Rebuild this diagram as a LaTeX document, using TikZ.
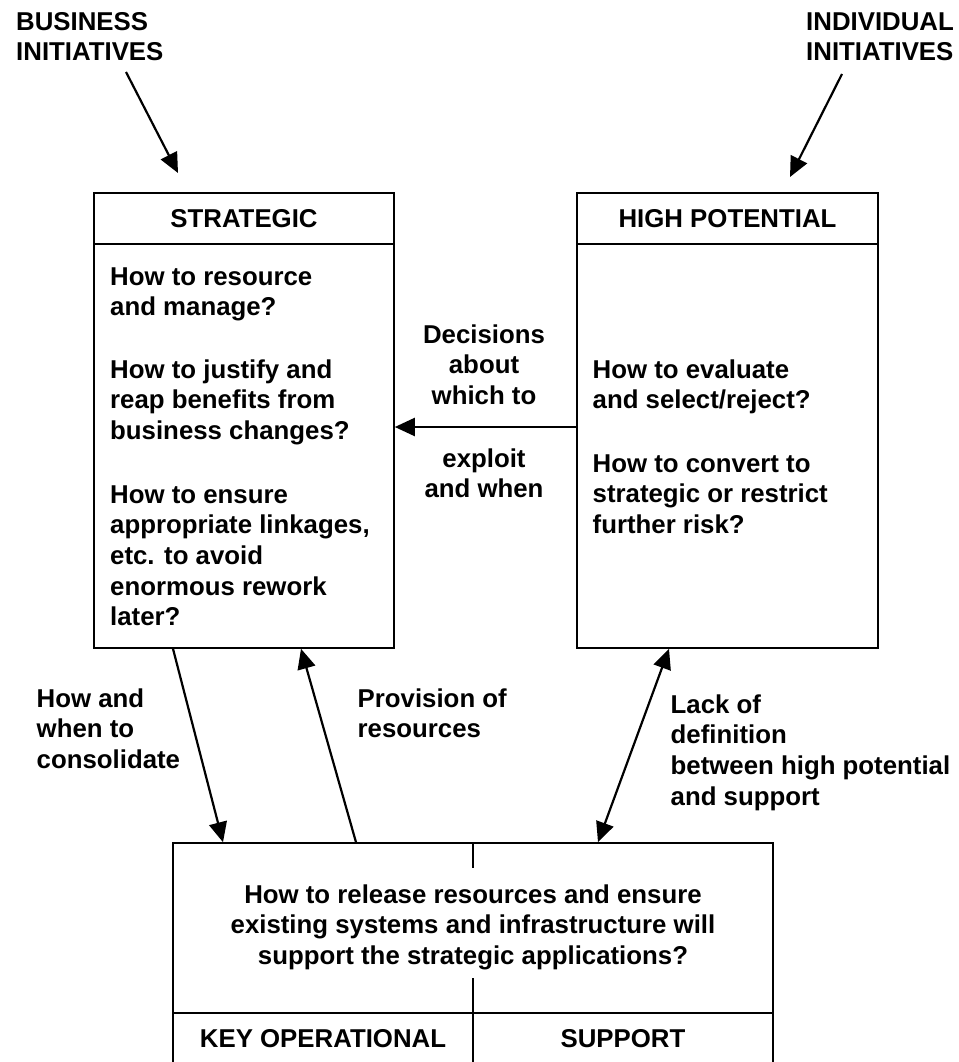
\documentclass[tikz,border=0pt]{standalone}
\usepackage{fontspec}
\setmainfont{Liberation Sans}
\usetikzlibrary{arrows.meta}
\begin{document}
\begin{tikzpicture}[x=1pt,y=-1pt,
  txt/.style={font=\bfseries\fontsize{25.8}{30.6}\selectfont, inner sep=0pt},
  para/.style={txt, align=left, anchor=north west, yshift=21.42pt},
  cpara/.style={txt, align=center, anchor=north, yshift=21.42pt},
  head/.style={txt, anchor=base},
  box/.style={draw=black, line width=1.6pt, inner sep=0pt},
  rule/.style={draw=black, line width=1.6pt},
  arr/.style={draw=black, line width=2.2pt, -{Triangle[length=20pt,width=18pt]}},
  darr/.style={draw=black, line width=2.2pt, {Triangle[length=20pt,width=18pt]}-{Triangle[length=20pt,width=18pt]}}]

\useasboundingbox (0,0) rectangle (958,1062);
\clip (0,0) rectangle (958,1062);
\fill[white] (0,0) rectangle (958,1062);

% quadrant boxes
\node[box, minimum width=300pt, minimum height=455pt] (strat) at (244,420.5) {};
\node[box, minimum width=301pt, minimum height=455pt] (hp) at (727.5,420.5) {};
\node[box, minimum width=600pt, minimum height=247pt] (ops) at (473,966.5) {};

% header rules and the split of the lower box
\draw[rule] (strat.west |- 0,244) -- (strat.east |- 0,244);
\draw[rule] (hp.west |- 0,244) -- (hp.east |- 0,244);
\draw[rule] (ops.west |- 0,1013) -- (ops.east |- 0,1013);
\coordinate (divA) at (473,868);
\coordinate (divB) at (473,978);
\draw[line width=1.2pt] (ops.north) -- (divA);
\draw[line width=1.2pt] (divB) -- (ops.south);

% box titles
\node[head] (tstrat) at (244,227) {STRATEGIC};
\node[head] (thp) at (727.5,227) {HIGH POTENTIAL};
\node[head] (tko) at (323,1047) {KEY OPERATIONAL};
\node[head] (tsup) at (623,1047) {SUPPORT};

% box contents
\node[para] (qstrat) at (110,285) {\strut How to resource\\and manage?\\[31.8pt]How to justify and\\reap benefits from\\business changes?\\[33.2pt]How to ensure\\appropriate linkages,\\etc. to avoid\\enormous rework\\later?};
\node[para] (qhp) at (592.5,378) {\strut How to evaluate\\and select/reject?\\[32.8pt]How to convert to\\strategic or restrict\\further risk?};
\node[cpara] (qops) at (473,903) {\strut How to release resources and ensure\\existing systems and infrastructure will\\support the strategic applications?};

% initiatives feeding the upper boxes
\node[para] (bus) at (16,30) {\strut BUSINESS\\INITIATIVES};
\node[para] (ind) at (806,30) {\strut INDIVIDUAL\\INITIATIVES};
\coordinate (busA) at (126,72);
\coordinate (busB) at (178,173);
\coordinate (indA) at (842,74);
\coordinate (indB) at (790,177);
\draw[arr] (busA) -- (busB);
\draw[arr] (indA) -- (indB);

% flows between the quadrants
\draw[arr] (hp.west |- 0,427) -- (strat.east |- 0,427);
\node[cpara] (ldec) at (484,343) {\strut Decisions\\about\\which to\\[32.2pt]exploit\\and when};

\draw[arr] (strat.south -| 173,0) -- (ops.north -| 223,0);
\node[para] (lcons) at (36.5,707) {\strut How and\\when to\\consolidate};

\draw[arr] (ops.north -| 356,0) -- (strat.south -| 301,0);
\node[para] (lprov) at (357.5,707) {\strut Provision of\\resources};

\draw[darr] (hp.south -| 669,0) -- (ops.north -| 598,0);
\node[para] (llack) at (670.5,713) {\strut Lack of\\definition\\between high potential\\and support};

\end{tikzpicture}
\end{document}
